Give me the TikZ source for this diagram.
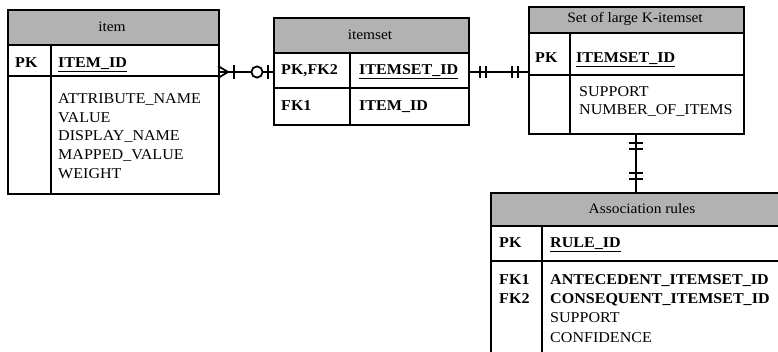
\documentclass[tikz,border=0pt]{standalone}
\usepackage{fontspec}
\setmainfont{Liberation Serif}[FakeStretch=1.07]
\begin{document}
\begin{tikzpicture}[x=1pt,y=-1pt,
  box/.style={draw, line width=1.6pt, anchor=north west, inner sep=0pt},
  hdr/.style={box, fill=black!30},
  sep/.style={line width=1.6pt},
  htxt/.style={font=\fontsize{14.4}{17}\selectfont, inner sep=0pt},
  txt/.style={font=\fontsize{15}{18}\selectfont, anchor=base west, inner sep=0pt},
  btxt/.style={font=\fontsize{15}{18}\selectfont\bfseries, anchor=base west, inner sep=0pt},
  conn/.style={line width=1.8pt},
  tick/.style={line width=1.8pt}
]
\useasboundingbox (0,0) rectangle (778,352);
\begin{scope}
\clip (0,0) rectangle (778,352);

% ---------- item ----------
\node[box, minimum width=211pt, minimum height=184pt] (item) at (7,9) {};
\node[hdr, minimum width=211pt, minimum height=35pt] (itemH) at (7,9) {};
\node[htxt] (itemT) at (112,27) {item};
\draw[sep] (7,76) -- (218,76);
\draw[sep] (51,44) -- (51,193);
\node[btxt] (itemPK) at (15,68) {PK};
\node[btxt] (itemID) at (58,68) {\underline{ITEM\_ID}};
\node[txt, align=left, anchor=north west, font=\fontsize{15}{18.7}\selectfont] (itemAttr) at (58,93.5)
  {ATTRIBUTE\_NAME\\VALUE\\DISPLAY\_NAME\\MAPPED\_VALUE\\WEIGHT};

% ---------- itemset ----------
\node[box, minimum width=195pt, minimum height=107pt] (iset) at (273,17) {};
\node[hdr, minimum width=195pt, minimum height=35pt] (isetH) at (273,17) {};
\node[htxt] (isetT) at (370,35) {itemset};
\draw[sep] (273,88) -- (468,88);
\draw[sep] (350,52) -- (350,124);
\node[btxt] (isetPK) at (281,75) {PK,FK2};
\node[btxt] (isetID) at (359,75) {\underline{ITEMSET\_ID}};
\node[btxt] (isetFK) at (281,111) {FK1};
\node[btxt] (isetItem) at (359,111) {ITEM\_ID};

% ---------- Set of large K-itemset ----------
\node[box, minimum width=215pt, minimum height=127pt] (lset) at (528,6) {};
\node[hdr, minimum width=215pt, minimum height=26pt] (lsetH) at (528,6) {};
\node[htxt] (lsetT) at (635,19) {Set of large K-itemset};
\draw[sep] (528,75) -- (743,75);
\draw[sep] (570,32) -- (570,133);
\node[btxt] (lsetPK) at (535,63) {PK};
\node[btxt] (lsetID) at (576,63) {\underline{ITEMSET\_ID}};
\node[txt, align=left, anchor=north west, font=\fontsize{15}{18}\selectfont] (lsetAttr) at (579,86.5)
  {SUPPORT\\NUMBER\_OF\_ITEMS};

% ---------- Association rules ----------
\node[box, minimum width=304pt, minimum height=200pt] (rule) at (490,192) {};
\node[hdr, minimum width=304pt, minimum height=33pt] (ruleH) at (490,192) {};
\node[htxt] (ruleT) at (642,208.5) {Association rules};
\draw[sep] (490,261) -- (794,261);
\draw[sep] (542,225) -- (542,392);
\node[btxt] (rulePK) at (499,248) {PK};
\node[btxt] (ruleID) at (550,248) {\underline{RULE\_ID}};
\node[btxt] (ruleFK1) at (499,284.5) {FK1};
\node[btxt] (ruleFK2) at (499,303.5) {FK2};
\node[btxt] (ruleA) at (550,284.5) {ANTECEDENT\_ITEMSET\_ID};
\node[btxt] (ruleC) at (550,303.5) {CONSEQUENT\_ITEMSET\_ID};
\node[txt] (ruleS) at (550,322.5) {SUPPORT};
\node[txt] (ruleF) at (550,342) {CONFIDENCE};
\end{scope}

% ---------- connectors ----------
\coordinate (a1) at (218,72);
\coordinate (a2) at (273,72);
\coordinate (b1) at (468,72);
\coordinate (b2) at (528,72);
\coordinate (c1) at (636,133);
\coordinate (c2) at (636,192);

% item -- itemset : many (crow's foot + bar)  /  zero-or-one (circle + bar)
\draw[conn] (a1) -- (a2);
\draw[conn] (228,72) -- (218,66);
\draw[conn] (228,72) -- (218,78);
\draw[tick] (234,65) -- (234,79);
\draw[conn, fill=white] (257,72) circle (5.6);
\draw[tick] (268,65) -- (268,79);

% itemset -- set : one-and-only-one on both ends
\draw[conn] (b1) -- (b2);
\foreach \xx in {480,486,512,518}
  \draw[tick] (\xx,66) -- (\xx,78);

% set -- association rules : one-and-only-one on both ends
\draw[conn] (c1) -- (c2);
\foreach \yy in {143,149,173,179}
  \draw[tick] (629,\yy) -- (643,\yy);
\end{tikzpicture}
\end{document}
